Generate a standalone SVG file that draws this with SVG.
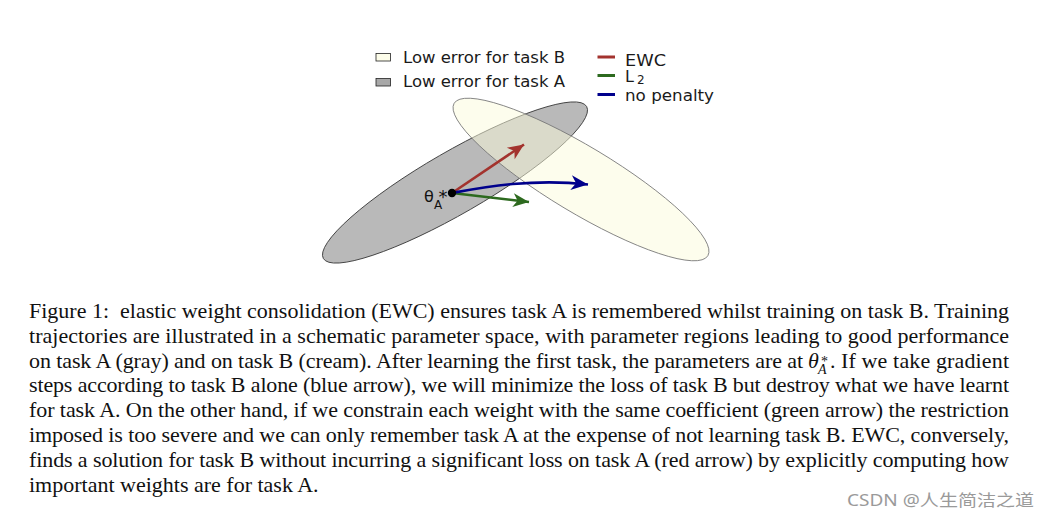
<svg xmlns="http://www.w3.org/2000/svg" width="1052" height="520" viewBox="0 0 1052 520">
<defs>
<style>
.lg{font-family:"DejaVu Sans",sans-serif;font-size:16px;fill:#1a1a1a}
.cap{font-family:"Liberation Serif","Times New Roman",serif;font-size:22px;fill:#111;white-space:pre}
.arr{fill:none;stroke-width:2.6}
</style>
<marker id="hR" markerUnits="userSpaceOnUse" markerWidth="20" markerHeight="20" viewBox="-18 -9 20 18" refX="0" refY="0" orient="auto"><path d="M0,0 L-16,-7 L-11.5,0 L-16,7 Z" fill="#a3332e"/></marker>
<marker id="hG" markerUnits="userSpaceOnUse" markerWidth="20" markerHeight="20" viewBox="-18 -9 20 18" refX="0" refY="0" orient="auto"><path d="M0,0 L-16,-7 L-11.5,0 L-16,7 Z" fill="#2d6a1f"/></marker>
<marker id="hB" markerUnits="userSpaceOnUse" markerWidth="20" markerHeight="20" viewBox="-18 -9 20 18" refX="0" refY="0" orient="auto"><path d="M0,0 L-17,-7.5 L-12,0 L-17,7.5 Z" fill="#00008c"/></marker>
</defs>
<rect width="1052" height="520" fill="#fff"/>

<g id="region-A">
<ellipse cx="455" cy="182.5" rx="152" ry="31" transform="rotate(-30 455 182.5)" fill="#b9b9b9" stroke="#333" stroke-width="0.8"/>
</g>
<g id="region-B">
<ellipse cx="581" cy="179.5" rx="148" ry="33" transform="rotate(31 581 179.5)" fill="#fbfbdc" fill-opacity="0.5" stroke="#777" stroke-width="0.8"/>
</g>

<g id="connectors">
<path id="ewc-arrow" class="arr" stroke="#a3332e" d="M452,193 L524,144.5" marker-end="url(#hR)"/>
<path id="l2-arrow" class="arr" stroke="#2d6a1f" d="M452,193 L529,202" marker-end="url(#hG)"/>
<path id="nopenalty-arrow" class="arr" stroke="#00008c" d="M452,193 C480,188 530,178 588,184.5" marker-end="url(#hB)"/>
</g>

<g id="theta-A">
<circle cx="452" cy="193" r="4.2" fill="#000"/>
<text x="424" y="202" font-family="DejaVu Sans,sans-serif" font-size="16" fill="#111">θ<tspan x="434" y="208.5" font-size="12">A</tspan><tspan x="438.5" y="203" font-size="18">*</tspan></text>
</g>

<g id="legend">
<rect x="376" y="53.5" width="14.5" height="7.5" fill="#fdfdea" stroke="#222" stroke-width="0.8"/>
<text class="lg" x="403" y="62.5" textLength="162" lengthAdjust="spacingAndGlyphs">Low error for task B</text>
<rect x="376" y="78.5" width="14.5" height="7.5" fill="#a8a8a8" stroke="#222" stroke-width="0.8"/>
<text class="lg" x="403" y="87" textLength="162" lengthAdjust="spacingAndGlyphs">Low error for task A</text>
<line x1="597.5" y1="57" x2="615" y2="57" stroke="#a3332e" stroke-width="3"/>
<text class="lg" x="625" y="66" textLength="41" lengthAdjust="spacingAndGlyphs">EWC</text>
<line x1="597.5" y1="75.5" x2="615" y2="75.5" stroke="#2d6a1f" stroke-width="3"/>
<text class="lg" x="625" y="82">L<tspan font-size="12" dx="3" dy="1.5">2</tspan></text>
<line x1="597.5" y1="94.5" x2="615" y2="94.5" stroke="#00008c" stroke-width="3"/>
<text class="lg" x="625" y="101" textLength="89" lengthAdjust="spacingAndGlyphs">no penalty</text>
</g>

<g id="caption">
<text class="cap" x="29" y="318" textLength="980" lengthAdjust="spacing">Figure 1:  elastic weight consolidation (EWC) ensures task A is remembered whilst training on task B. Training</text>
<text class="cap" x="29" y="342.8" textLength="980" lengthAdjust="spacing">trajectories are illustrated in a schematic parameter space, with parameter regions leading to good performance</text>
<text class="cap" x="29" y="367.6" textLength="774" lengthAdjust="spacing">on task A (gray) and on task B (cream). After learning the first task, the parameters are at</text>
<text class="cap" x="808" y="367.6"><tspan font-style="italic">θ</tspan><tspan x="821" y="366" font-size="14">*</tspan><tspan x="818" y="373.5" font-size="14" font-style="italic">A</tspan><tspan x="830" y="367.6">.</tspan></text>
<text class="cap" x="841" y="367.6" textLength="168" lengthAdjust="spacing">If we take gradient</text>
<text class="cap" x="29" y="392.4" textLength="980" lengthAdjust="spacing">steps according to task B alone (blue arrow), we will minimize the loss of task B but destroy what we have learnt</text>
<text class="cap" x="29" y="417.2" textLength="980" lengthAdjust="spacing">for task A. On the other hand, if we constrain each weight with the same coefficient (green arrow) the restriction</text>
<text class="cap" x="29" y="442" textLength="980" lengthAdjust="spacing">imposed is too severe and we can only remember task A at the expense of not learning task B. EWC, conversely,</text>
<text class="cap" x="29" y="466.8" textLength="980" lengthAdjust="spacing">finds a solution for task B without incurring a significant loss on task A (red arrow) by explicitly computing how</text>
<text class="cap" x="29" y="491.6">important weights are for task A.</text>
</g>

<g id="watermark">
<text x="847" y="506" font-family="'Noto Sans','Noto Sans CJK SC',sans-serif" font-size="16" fill="#9a9a9a" textLength="187" lengthAdjust="spacingAndGlyphs">CSDN @人生简洁之道</text>
</g>
</svg>
